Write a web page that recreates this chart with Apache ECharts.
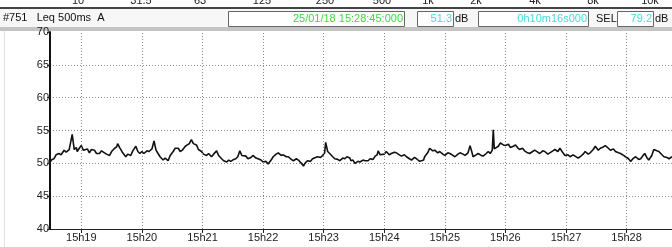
<!DOCTYPE html>
<html>
<head>
<meta charset="utf-8">
<script src="https://cdn.jsdelivr.net/npm/echarts@6/dist/echarts.min.js"></script>
<style>
  html, body { margin: 0; padding: 0; background: #fff; }
  #chart { width: 672px; height: 247px; }
</style>
</head>
<body>
<div id="chart"></div>
<script>
// seconds after 15:18:00
var seconds = [
  29, 31, 33, 35, 38, 40, 43, 45, 48, 51, 53, 55, 56, 58, 60, 62, 63, 66, 68, 70,
  73, 75, 78, 80, 83, 85, 88, 90, 93, 95, 96, 98, 99, 101, 104, 106, 109, 111, 114, 116,
  118, 120, 122, 125, 127, 130, 132, 134, 136, 138, 141, 143, 146, 148, 151, 153, 156, 158, 160, 163,
  165, 167, 169, 171, 174, 176, 179, 181, 184, 186, 189, 191, 194, 196, 199, 201, 204, 206, 208, 211,
  213, 215, 217, 219, 220, 223, 225, 228, 230, 233, 235, 238, 240, 243, 245, 248, 250, 253, 255, 258,
  260, 263, 265, 268, 270, 273, 275, 278, 280, 282, 284, 287, 289, 292, 294, 297, 299, 301, 302, 304,
  306, 309, 311, 314, 316, 319, 321, 323, 324, 326, 327, 329, 331, 334, 336, 339, 341, 344, 346, 349,
  351, 353, 354, 356, 357, 360, 362, 365, 367, 370, 372, 375, 377, 380, 382, 385, 387, 390, 392, 395,
  397, 399, 400, 403, 405, 408, 410, 413, 415, 418, 420, 423, 425, 428, 430, 433, 435, 438, 440, 443,
  445, 447, 448, 451, 453, 456, 458, 461, 463, 465, 466, 467, 468, 469, 470, 473, 475, 478, 480, 483,
  485, 488, 490, 492, 494, 497, 499, 502, 504, 507, 509, 512, 514, 517, 519, 522, 524, 527, 529, 532,
  534, 537, 539, 542, 544, 547, 549, 552, 554, 557, 559, 562, 564, 567, 569, 572, 574, 577, 579, 582,
  584, 587, 589, 592, 594, 597, 599, 602, 604, 607, 609, 612, 614, 616, 618, 620, 622, 625, 627, 630,
  632, 635, 637, 640, 642, 645
];
// Leq 500ms A (dB)
var levels = [
  50.2, 50.6, 50.7, 51.3, 51.5, 51.3, 52.0, 51.7, 52.1, 54.4, 52.1, 52.4, 51.8, 52.3, 52.7, 52.0, 51.9, 52.2, 51.6, 52.1,
  52.0, 51.5, 51.5, 51.9, 51.6, 51.4, 51.2, 51.8, 52.3, 52.5, 53.0, 52.4, 52.3, 51.6, 51.0, 51.4, 51.2, 51.9, 52.6, 51.8,
  51.5, 51.8, 51.5, 51.9, 51.8, 52.2, 53.4, 52.0, 51.5, 51.0, 50.5, 50.8, 50.4, 51.2, 51.8, 52.3, 52.3, 51.8, 52.0, 52.6,
  52.8, 53.0, 53.6, 53.0, 52.8, 52.1, 51.8, 51.4, 51.2, 51.5, 51.0, 51.4, 51.9, 51.2, 50.7, 50.4, 50.2, 50.5, 50.3, 50.6,
  50.7, 51.0, 51.9, 51.2, 51.0, 51.1, 50.7, 50.9, 51.2, 50.8, 50.7, 50.5, 50.2, 50.3, 49.9, 50.5, 51.0, 51.4, 51.6, 51.2,
  51.3, 51.0, 51.0, 50.6, 50.4, 50.7, 50.5, 50.0, 49.6, 50.1, 50.4, 50.3, 50.7, 50.9, 51.0, 50.9, 51.2, 51.6, 53.2, 51.8,
  51.5, 51.0, 50.7, 50.6, 50.4, 50.8, 50.7, 51.0, 51.2, 50.8, 50.4, 50.5, 50.0, 50.3, 50.2, 50.5, 50.4, 50.4, 50.7, 50.6,
  51.1, 51.3, 51.9, 51.3, 51.0, 51.4, 51.8, 51.3, 51.5, 51.7, 51.6, 51.3, 51.1, 51.3, 51.0, 50.7, 50.5, 50.9, 50.7, 50.3,
  50.4, 50.5, 51.0, 51.6, 52.3, 51.9, 52.0, 51.6, 51.8, 51.4, 51.2, 51.6, 51.5, 51.2, 51.0, 51.4, 51.6, 51.4, 51.2, 51.6,
  52.7, 51.6, 51.0, 51.3, 51.5, 51.2, 51.1, 51.5, 51.8, 51.5, 51.8, 52.0, 55.1, 52.2, 52.0, 52.6, 53.1, 52.8, 52.7, 52.9,
  52.4, 52.6, 52.8, 52.4, 52.1, 52.3, 51.9, 51.6, 51.5, 51.8, 52.0, 51.7, 51.5, 51.9, 51.8, 51.4, 51.6, 51.9, 52.1, 51.8,
  52.3, 51.6, 51.2, 51.3, 51.0, 51.3, 51.1, 50.8, 51.0, 51.4, 51.8, 51.4, 51.6, 52.1, 52.6, 52.0, 52.3, 52.5, 52.7, 52.3,
  52.0, 52.2, 51.8, 51.6, 51.5, 51.2, 51.0, 50.7, 50.3, 50.8, 51.0, 50.6, 50.7, 51.1, 51.5, 50.9, 50.5, 51.2, 52.1, 51.9,
  51.8, 51.3, 51.0, 50.9, 50.7, 51.0
];
var minuteTicks = [60, 120, 180, 240, 300, 360, 420, 480, 540, 600];
var bandLabels = ['10', '31.5', '63', '125', '250', '500', '1k', '2k', '4k', '8k', '10k'];
var bandLabelX = [78, 141, 200, 262, 325, 382, 428, 476, 535, 593, 650];
var header = {
  title: '#751   Leq 500ms  A',
  endTime: '25/01/18 15:28:45:000',
  leq: '51.3',
  duration: '0h10m16s000',
  sel: '79.2'
};

var FONT = '"Liberation Sans", Arial, sans-serif';
var chart = echarts.init(document.getElementById('chart'));

var graphics = [];
// band labels cut off at the very top
bandLabels.forEach(function (t, i) {
  graphics.push({
    type: 'text', x: bandLabelX[i], y: 6,
    style: { text: t, font: '11px ' + FONT, fill: '#222', align: 'center', verticalAlign: 'bottom' }
  });
});
graphics.push(
  { type: 'rect', shape: { x: 0, y: 7, width: 672, height: 2 }, style: { fill: '#444' } },
  { type: 'rect', shape: { x: 0, y: 9, width: 672, height: 18 }, style: { fill: '#f7f7f7' } },
  { type: 'rect', shape: { x: 0, y: 27, width: 672, height: 4 }, style: { fill: '#c4c4c4' } },
  { type: 'line', shape: { x1: 4.5, y1: 31, x2: 4.5, y2: 247 }, style: { stroke: '#e2e2e2', lineWidth: 1 } },
  { type: 'text', x: 3, y: 18, style: { text: header.title, font: '11px ' + FONT, fill: '#111', verticalAlign: 'middle' } }
);
function box(x0, x1, text, color) {
  graphics.push(
    { type: 'rect', shape: { x: x0 + 0.5, y: 11.5, width: x1 - x0, height: 15 },
      style: { fill: '#fff', stroke: '#666', lineWidth: 1 } },
    { type: 'text', x: x1 - 1, y: 19, style: { text: text, font: '11px ' + FONT, fill: color, align: 'right', verticalAlign: 'middle' } }
  );
}
box(228, 404, header.endTime, '#3ddc3d');
box(417, 453, header.leq, '#44dcdc');
box(478, 588, header.duration, '#44dcdc');
box(617, 653, header.sel, '#44dcdc');
graphics.push(
  { type: 'text', x: 455, y: 19, style: { text: 'dB', font: '11px ' + FONT, fill: '#111', verticalAlign: 'middle' } },
  { type: 'text', x: 596, y: 19, style: { text: 'SEL', font: '11px ' + FONT, fill: '#111', verticalAlign: 'middle' } },
  { type: 'text', x: 655, y: 19, style: { text: 'dB', font: '11px ' + FONT, fill: '#111', verticalAlign: 'middle' } }
);

var dotted = { color: '#8c8c8c', type: [1, 2], width: 1 };

var option = {
  animation: false,
  backgroundColor: '#fff',
  textStyle: { fontFamily: FONT },
  grid: { left: 50, right: 0, top: 32, bottom: 18, containLabel: false },
  xAxis: {
    type: 'value',
    min: 29,
    max: 645,
    axisLine: { show: true, lineStyle: { color: '#222', width: 1 } },
    axisTick: { show: true, customValues: minuteTicks, length: 4, lineStyle: { color: '#222' } },
    axisLabel: {
      customValues: minuteTicks,
      fontSize: 11, color: '#222', margin: 3,
      formatter: function (v) { return '15h' + (18 + Math.round(v / 60)); }
    },
    splitLine: { show: false }
  },
  yAxis: {
    type: 'value',
    min: 40,
    max: 70,
    interval: 5,
    axisLine: { show: true, lineStyle: { color: '#111', width: 2 } },
    axisTick: { show: true, length: 3, lineStyle: { color: '#222' } },
    axisLabel: { fontSize: 11, color: '#222', margin: 1 },
    splitLine: { show: true, showMaxLine: false, lineStyle: dotted }
  },
  series: [
    {
      // minute grid lines, kept under the trace
      type: 'line',
      data: [],
      z: 1,
      silent: true,
      markLine: {
        silent: true,
        symbol: 'none',
        label: { show: false },
        lineStyle: dotted,
        data: minuteTicks.map(function (t) { return { xAxis: t }; })
      }
    },
    {
      type: 'line',
      z: 3,
      data: seconds.map(function (s, i) { return [s, levels[i]]; }),
      showSymbol: false,
      lineStyle: { color: '#111', width: 1.6 }
    }
  ],
  graphic: graphics
};
chart.setOption(option);
</script>
</body>
</html>
